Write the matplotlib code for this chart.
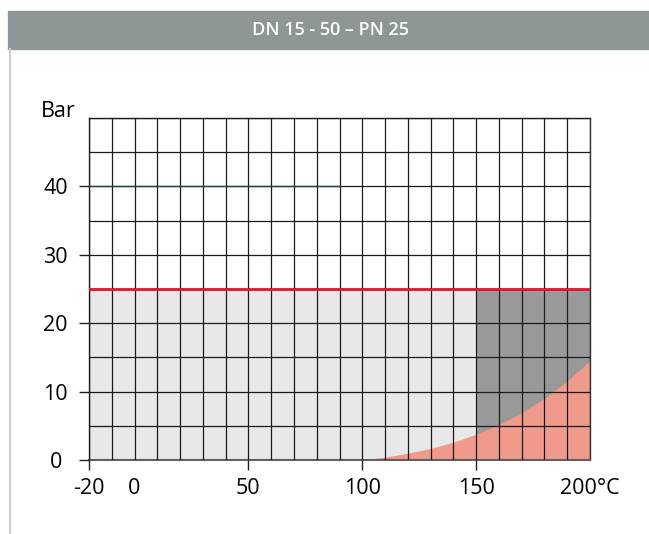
import numpy as np
import matplotlib
matplotlib.use('Agg')
import matplotlib.pyplot as plt
from matplotlib.patches import Rectangle
from matplotlib.lines import Line2D
from matplotlib.ticker import MultipleLocator

# Data
TITLE = 'DN 15 - 50 – PN 25'
T_MIN, T_MAX = -20, 200
P_MAX_AXIS = 50
PN = 25                      # nominal pressure limit (red line)
GREEN_LEVEL = 40
GREEN_END = 90
DARK_START = 150             # dark grey zone from here

# saturated steam curve (gauge pressure)
steam_t = [100, 110, 120, 130, 140, 150, 160, 170, 180, 190, 200]
steam_p = [0, 0.43, 0.99, 1.70, 2.61, 3.76, 5.18, 6.92, 9.03, 11.54, 14.54]

x_ticks = [-20, 0, 50, 100, 150, 200]
x_labels = ['-20', '0', '50', '100', '150', '200°C']
y_ticks = [0, 10, 20, 30, 40]

plt.rcParams['font.family'] = ['Open Sans', 'DejaVu Sans']

fig = plt.figure(figsize=(6.49, 5.34), dpi=100)

# header bar and left border
fig.patches.append(Rectangle((8 / 649, 1 - 49 / 534), 1 - 8 / 649, 38 / 534,
                             transform=fig.transFigure, color='#8f9698', zorder=0))
fig.lines.append(Line2D([10 / 649, 10 / 649], [0, 1 - 49 / 534],
                        transform=fig.transFigure, color='#cccccc', lw=1.5))
fig.text(330 / 649, 1 - 30 / 534, TITLE, color='white', fontsize=13, fontweight='semibold',
         ha='center', va='center')

ax = fig.add_axes([89 / 649, 74 / 534, 501 / 649, 342 / 534])
ax.set_xlim(T_MIN, T_MAX)
ax.set_ylim(0, P_MAX_AXIS)

# zones
ax.fill_between([T_MIN, DARK_START], 0, PN, color='#e8e8e8', lw=0, zorder=1)
ax.fill_between([DARK_START, T_MAX], 0, PN, color='#999999', lw=0, zorder=1)
ax.fill_between(steam_t, 0, steam_p, color='#ef9a8a', lw=0, zorder=1.2)

# limit lines
ax.plot([T_MIN, T_MAX], [PN, PN], color='#e3142d', lw=2, zorder=4)
ax.plot([T_MIN, GREEN_END], [GREEN_LEVEL, GREEN_LEVEL], color='#1f4a2c', lw=1, zorder=4)

# grid
ax.xaxis.set_minor_locator(MultipleLocator(10))
ax.yaxis.set_minor_locator(MultipleLocator(5))
ax.set_axisbelow(False)
ax.grid(which='both', color='#1a1a1a', lw=0.9)
ax.tick_params(which='minor', length=0)

ax.set_xticks(x_ticks)
ax.set_xticklabels(x_labels)
ax.set_yticks(y_ticks)
ax.tick_params(which='major', length=7, width=1, color='#222222', labelsize=15.5)
ax.tick_params(axis='x', pad=6)
ax.tick_params(axis='y', pad=17)
for lab in ax.get_yticklabels():
    lab.set_horizontalalignment('center')
for i, t in enumerate(ax.xaxis.get_major_ticks()):
    if x_ticks[i] in (0, 200):
        t.tick1line.set_visible(False)

for s in ax.spines.values():
    s.set_color('#333333')
    s.set_linewidth(1)
ax.spines['bottom'].set_color('#666666')
ax.spines['bottom'].set_linewidth(1.5)

ax.text(-0.062, 1.003, 'Bar', transform=ax.transAxes, fontsize=15.5, ha='center', va='baseline')

fig.savefig('out.png', dpi=100)
